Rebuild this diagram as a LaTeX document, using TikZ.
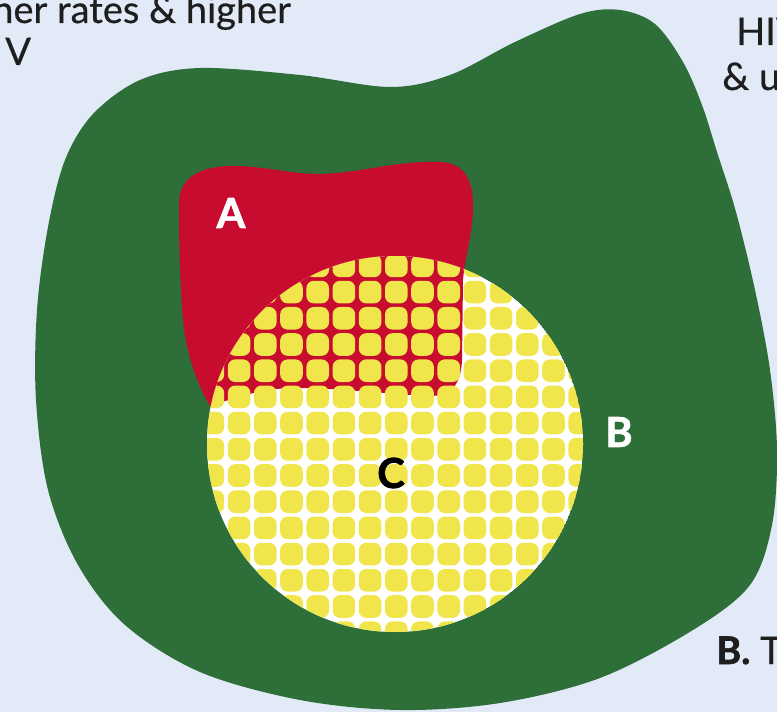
\documentclass[tikz,border=0pt]{standalone}
\usepackage{fontspec}
\setmainfont{Lato}
\newfontfamily\labfont{Lato}[BoldFeatures={FakeBold=1.6}]
\newfontfamily\capfont{Lato}[FakeBold=0.5]
\definecolor{bgblue}{HTML}{E2EAF7}
\definecolor{blobgreen}{HTML}{2D6E39}
\definecolor{blobred}{HTML}{C80C30}
\definecolor{dotyellow}{HTML}{F0E64B}
\definecolor{txtdark}{HTML}{1E1E1E}
\tikzset{
  bodytext/.style={font=\capfont\fontsize{28.5}{34}\selectfont, text=txtdark, inner sep=0pt},
  biglabel/.style={font=\labfont\fontsize{31}{34}\selectfont\bfseries, inner sep=0pt},
}
\begin{document}
\begin{tikzpicture}[x=0.75pt,y=-0.75pt]
  \useasboundingbox (0,0) rectangle (777,712);
  \fill[bgblue] (0,0) rectangle (777,712);

  % big green region
  \fill[blobgreen] plot[smooth cycle, tension=0.55] coordinates {
    (200,68) (300,75) (390,87) (450,75) (515,42) (580,14) (620,10) (655,24)
    (683,62) (702,105) (717,152) (736,212) (755,290) (770,370) (777,450)
    (772,525) (750,585) (693,630) (600,678) (500,703) (400,710) (300,700)
    (200,672) (125,625) (78,565) (48,490) (36,400) (37,310) (48,227)
    (65,160) (93,114) (140,80)};

  % red region A
  \def\redpath{(179,205) .. controls (178,178) and (200,165) .. (237,166)
    .. controls (270,167) and (290,174) .. (320,174)
    .. controls (360,173) and (400,160) .. (440,162)
    .. controls (463,163) and (473,178) .. (473,205)
    .. controls (473,235) and (465,255) .. (463,280)
    -- (462,360)
    .. controls (461,386) and (450,396) .. (430,396)
    .. controls (380,394) and (300,383) .. (262,391)
    .. controls (240,396) and (222,402) .. (210,406)
    .. controls (196,382) and (186,352) .. (183,320)
    .. controls (180,285) and (179,245) .. (179,205) -- cycle}
  \fill[blobred] \redpath;

  % circle with dot pattern (C = overlap)
  \begin{scope}
    \clip (395,444) circle[radius=141pt];
    \fill[white] (395,444) circle[radius=141pt];
    \fill[blobred] \redpath;
    \foreach \i in {0,...,16}{
      \foreach \j in {0,...,16}{
        \fill[dotyellow, rounded corners=5.5pt]
          ({186.7+26.2*\i-11.3},{239.7+26.2*\j-11.3}) rectangle ++(22.6,22.6);
      }
    }
  \end{scope}

  % region labels
  \node[biglabel, text=white] (labA) at (231,213) {A};
  \node[biglabel, text=white] (labB) at (619,432) {B};
  \node[biglabel, text=black] (labC) at (391,473) {C};

  % cut-off caption texts
  \node[bodytext, anchor=base west] (t1) at (-8,23) {her rates \& higher};
  \node[bodytext, anchor=base west] (t2) at (5,65) {V};
  \node[bodytext, anchor=base west] (t3) at (736,45) {HIV};
  \node[bodytext, anchor=base west] (t4) at (722,90) {\& u};
  \node[bodytext, anchor=base west] (t5) at (716,664) {{\labfont\bfseries B.} T};
\end{tikzpicture}
\end{document}
